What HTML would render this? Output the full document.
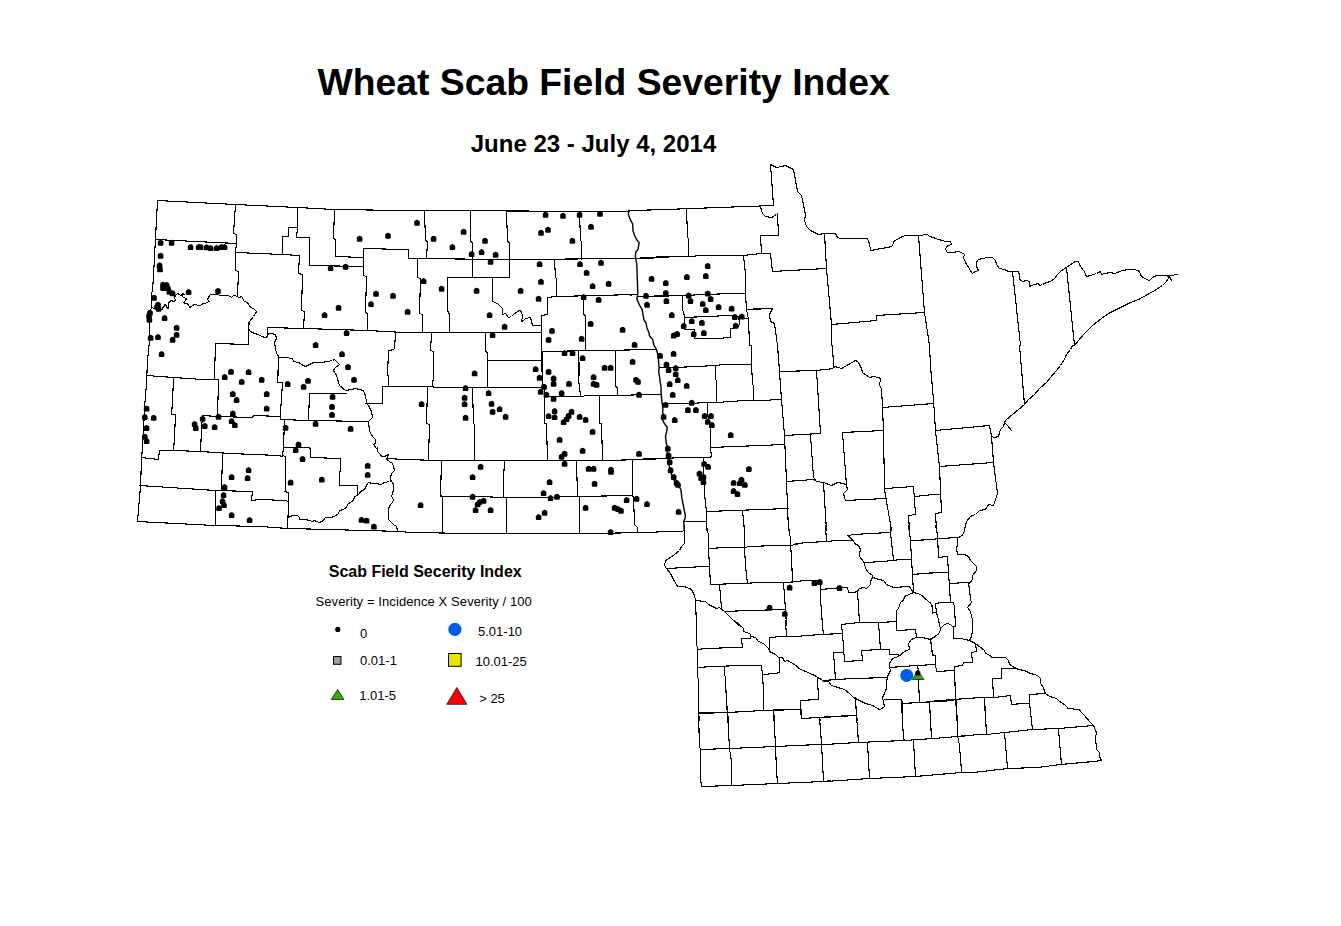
<!DOCTYPE html>
<html><head><meta charset="utf-8"><style>
html,body{margin:0;padding:0;background:#fff;}
body{width:1341px;height:926px;overflow:hidden;position:relative;font-family:"Liberation Sans",sans-serif;}
.t1{position:absolute;left:0;top:0;width:1341px;}
svg{position:absolute;left:0;top:0;}
</style></head><body>
<svg width="1341" height="926" viewBox="0 0 1341 926">
<defs><path id="d" d="M0 -3.3 L1.5 -2.7 L2.8 -1.4 L2.8 1.6 L2.2 2.7 L-2.2 2.7 L-2.8 1.6 L-2.8 -1.4 L-1.5 -2.7 Z" fill="#000"/></defs>
<text x="603.6" y="94.8" font-family="Liberation Sans" font-weight="bold" font-size="37.3" text-anchor="middle" fill="#000">Wheat Scab Field Severity Index</text>
<text x="593.5" y="151.8" font-family="Liberation Sans" font-weight="bold" font-size="24" text-anchor="middle" fill="#000">June 23 - July 4, 2014</text>
<path d="M157.5 200.5 L235.5 204.5 L297.5 207.5 L334.5 209.5 L403.5 210.5 M155.5 239.5 L236.5 243.5 M235.5 204.5 L233.5 233.5 L236.5 234.5 L236.5 243.5 L235.5 252.5 L235.5 270.5 L238.5 271.5 L237.5 296.5 M236.5 252.5 L282.5 254.5 L299.5 255.5 M282.5 254.5 L282.5 236.5 L288.5 236.5 L288.5 227.5 L297.5 227.5 L297.5 207.5 M297.5 227.5 L296.5 237.5 L309.5 237.5 L309.5 265.5 L363.5 266.5 M299.5 255.5 L298.5 273.5 L302.5 274.5 L301.5 310.5 L304.5 311.5 L303.5 328.5 M334.5 209.5 L333.5 238.5 L335.5 239.5 L335.5 256.5 L363.5 257.5 M363.5 248.5 L403.5 249.5 M363.5 248.5 L363.5 275.5 L366.5 276.5 L365.5 312.5 L367.5 313.5 L367.5 330.5 M267.5 327.5 L303.5 328.5 L367.5 330.5 L403.5 332.5 M395.5 332.5 L394.5 349.5 L388.5 350.5 L387.5 375.5 M244.5 301.5 L247.5 302.5 L249.5 305.5 L250.5 307.5 L253.5 308.5 L256.5 311.5 L255.5 313.5 L253.5 316.5 L249.5 321.5 L248.5 328.5 L250.5 331.5 L254.5 333.5 L258.5 334.5 L261.5 336.5 L265.5 337.5 L267.5 336.5 L268.5 333.5 L271.5 333.5 L275.5 334.5 L276.5 338.5 L274.5 342.5 L275.5 348.5 L276.5 353.5 L279.5 357.5 L285.5 357.5 L292.5 358.5 L293.5 361.5 L298.5 362.5 L301.5 364.5 L305.5 366.5 L309.5 364.5 L313.5 362.5 L317.5 362.5 L321.5 362.5 L327.5 361.5 L332.5 360.5 L334.5 359.5 L337.5 362.5 L339.5 364.5 L335.5 367.5 L333.5 370.5 L335.5 373.5 L336.5 375.5 M248.5 322.5 L248.5 344.5 L215.5 343.5 L214.5 375.5 M267.5 327.5 L267.5 336.5 M278.5 357.5 L278.5 375.5 M400.5 210.5 L629.5 211.5 M629.5 210.5 L668.5 209.5 M424.5 211.5 L425.5 240.5 L427.5 241.5 L426.5 258.5 M400.5 249.5 L408.5 249.5 L408.5 258.5 L509.5 259.5 L635.5 258.5 M635.5 258.5 L668.5 257.5 M470.5 211.5 L470.5 241.5 L472.5 242.5 L472.5 259.5 L472.5 277.5 M506.5 211.5 L507.5 241.5 L509.5 242.5 L509.5 259.5 L509.5 277.5 M579.5 211.5 L580.5 240.5 L581.5 241.5 L581.5 259.5 M447.5 277.5 L509.5 277.5 M417.5 259.5 L417.5 277.5 L420.5 278.5 L419.5 313.5 L422.5 314.5 L422.5 332.5 M447.5 277.5 L447.5 310.5 L449.5 314.5 L449.5 332.5 M492.5 277.5 L492.5 301.5 L497.5 303.5 L500.5 306.5 L502.5 308.5 L502.5 314.5 L505.5 313.5 L508.5 317.5 L511.5 316.5 L513.5 314.5 L516.5 312.5 L519.5 310.5 L521.5 311.5 L522.5 316.5 L521.5 321.5 L523.5 320.5 L525.5 318.5 L530.5 317.5 L531.5 321.5 L532.5 325.5 L540.5 325.5 M554.5 259.5 L555.5 277.5 L556.5 278.5 L556.5 296.5 M547.5 297.5 L556.5 296.5 L636.5 294.5 M639.5 296.5 L668.5 296.5 M547.5 297.5 L547.5 314.5 L541.5 315.5 L541.5 332.5 L541.5 351.5 M400.5 332.5 L541.5 332.5 M583.5 296.5 L583.5 314.5 L585.5 315.5 L585.5 350.5 M541.5 351.5 L656.5 349.5 M431.5 333.5 L430.5 350.5 L433.5 351.5 L433.5 375.5 M485.5 332.5 L485.5 351.5 L487.5 352.5 L487.5 375.5 M487.5 360.5 L542.5 360.5 M542.5 351.5 L542.5 375.5 M578.5 351.5 L579.5 375.5 M615.5 350.5 L615.5 375.5 M665.5 209.5 L773.5 205.5 M773.5 205.5 L770.5 164.5 L776.5 167.5 L781.5 166.5 L785.5 165.5 L793.5 169.5 L797.5 191.5 L801.5 195.5 L805.5 214.5 L804.5 220.5 L806.5 226.5 L810.5 230.5 L818.5 234.5 L824.5 233.5 L835.5 233.5 L837.5 237.5 L840.5 238.5 L867.5 238.5 L869.5 243.5 L870.5 250.5 L881.5 248.5 L892.5 246.5 L893.5 241.5 L900.5 237.5 L905.5 235.5 L918.5 235.5 L927.5 234.5 L929.5 236.5 L933.5 237.5 M760.5 206.5 L762.5 213.5 L765.5 216.5 L771.5 217.5 L776.5 214.5 L777.5 213.5 L778.5 235.5 L760.5 235.5 L761.5 253.5 M686.5 208.5 L687.5 236.5 L688.5 239.5 L688.5 256.5 M640.5 257.5 L676.5 256.5 L688.5 256.5 L702.5 255.5 L743.5 255.5 L761.5 253.5 L770.5 253.5 L772.5 271.5 L826.5 268.5 M824.5 233.5 L826.5 268.5 L831.5 324.5 L831.5 345.5 M743.5 255.5 L745.5 273.5 L745.5 293.5 L746.5 309.5 L748.5 319.5 L749.5 345.5 M747.5 309.5 L772.5 308.5 L769.5 314.5 L770.5 321.5 L774.5 323.5 L777.5 345.5 M831.5 324.5 L876.5 320.5 L876.5 315.5 L924.5 312.5 L929.5 345.5 M918.5 235.5 L924.5 312.5 M630.5 295.5 L633.5 294.5 L636.5 294.5 M638.5 296.5 L673.5 295.5 L682.5 295.5 L705.5 294.5 L731.5 293.5 L745.5 293.5 M682.5 295.5 L682.5 310.5 L683.5 311.5 L684.5 317.5 L684.5 329.5 L694.5 329.5 L694.5 338.5 L716.5 338.5 L730.5 337.5 L730.5 328.5 L738.5 327.5 L739.5 322.5 L738.5 316.5 L729.5 315.5 L706.5 316.5 L684.5 317.5 M739.5 318.5 L747.5 318.5 M747.5 309.5 L760.5 308.5 M930.5 236.5 L938.5 239.5 L945.5 241.5 L950.5 241.5 L951.5 244.5 L946.5 246.5 L945.5 249.5 L947.5 252.5 L952.5 252.5 L958.5 251.5 L961.5 252.5 L964.5 254.5 L963.5 257.5 L965.5 262.5 L968.5 267.5 L972.5 273.5 L975.5 271.5 L978.5 270.5 L976.5 266.5 L976.5 262.5 L978.5 259.5 L982.5 258.5 L987.5 257.5 L992.5 257.5 L995.5 260.5 L996.5 264.5 L999.5 268.5 L1004.5 269.5 L1008.5 271.5 L1012.5 271.5 L1018.5 271.5 L1019.5 275.5 L1019.5 279.5 L1022.5 281.5 L1026.5 280.5 L1029.5 281.5 L1029.5 286.5 L1034.5 284.5 L1038.5 283.5 L1039.5 285.5 L1042.5 284.5 L1046.5 282.5 L1050.5 281.5 L1054.5 278.5 L1057.5 274.5 L1061.5 270.5 L1066.5 267.5 L1070.5 264.5 L1075.5 261.5 L1078.5 261.5 L1079.5 264.5 L1082.5 269.5 L1084.5 271.5 L1086.5 276.5 L1090.5 275.5 L1096.5 273.5 L1100.5 271.5 L1101.5 274.5 L1104.5 273.5 L1110.5 272.5 L1114.5 273.5 L1122.5 270.5 L1128.5 269.5 L1134.5 269.5 L1139.5 271.5 L1141.5 276.5 L1144.5 278.5 L1149.5 280.5 L1152.5 277.5 L1156.5 275.5 L1162.5 275.5 L1167.5 275.5 L1170.5 275.5 L1177.5 274.5 M1166.5 275.5 L1170.5 278.5 L1171.5 280.5 L1169.5 276.5 M1168.5 278.5 L1165.5 282.5 L1162.5 285.5 L1156.5 289.5 L1147.5 294.5 L1138.5 299.5 L1128.5 303.5 L1118.5 308.5 L1108.5 313.5 L1101.5 318.5 L1092.5 325.5 L1084.5 333.5 L1078.5 340.5 L1074.5 345.5 M1012.5 271.5 L1020.5 345.5 M1066.5 267.5 L1074.5 345.5 M147.5 360.5 L146.5 383.5 L144.5 407.5 L143.5 431.5 L141.5 460.5 L140.5 486.5 L137.5 521.5 M146.5 375.5 L173.5 377.5 L202.5 379.5 L218.5 379.5 M214.5 360.5 L214.5 379.5 M218.5 379.5 L217.5 416.5 M173.5 377.5 L172.5 401.5 L171.5 414.5 L175.5 414.5 L174.5 437.5 L173.5 450.5 M202.5 415.5 L217.5 416.5 L252.5 417.5 L253.5 415.5 L280.5 416.5 L280.5 419.5 L308.5 420.5 L368.5 421.5 M202.5 415.5 L201.5 429.5 L200.5 451.5 M278.5 360.5 L277.5 382.5 L282.5 382.5 L280.5 412.5 L280.5 416.5 M284.5 419.5 L283.5 447.5 L282.5 455.5 L285.5 456.5 L285.5 490.5 L284.5 491.5 L288.5 492.5 L288.5 504.5 L287.5 528.5 M141.5 457.5 L158.5 459.5 L159.5 450.5 L173.5 450.5 L200.5 451.5 L230.5 453.5 L278.5 455.5 L282.5 456.5 M283.5 447.5 L308.5 447.5 L310.5 448.5 L310.5 457.5 L340.5 458.5 L340.5 471.5 L339.5 471.5 L339.5 485.5 L357.5 485.5 L357.5 495.5 M137.5 521.5 L214.5 525.5 L260.5 526.5 L287.5 528.5 L328.5 529.5 L364.5 530.5 L403.5 531.5 M139.5 485.5 L215.5 490.5 L252.5 491.5 L251.5 500.5 L260.5 499.5 L285.5 500.5 L288.5 501.5 M215.5 490.5 L215.5 525.5 M222.5 453.5 L221.5 490.5 M308.5 420.5 L309.5 393.5 L346.5 393.5 M336.5 375.5 L339.5 385.5 L345.5 390.5 L351.5 389.5 L355.5 388.5 L363.5 390.5 L365.5 395.5 L366.5 402.5 L368.5 405.5 L371.5 411.5 L372.5 417.5 L368.5 421.5 L369.5 430.5 L370.5 433.5 L373.5 437.5 L375.5 439.5 L375.5 443.5 L373.5 444.5 L376.5 448.5 L377.5 447.5 L377.5 451.5 L380.5 454.5 L381.5 456.5 L384.5 456.5 L388.5 454.5 L387.5 457.5 L386.5 459.5 L389.5 461.5 L392.5 463.5 L393.5 466.5 L394.5 470.5 L391.5 473.5 L390.5 477.5 L390.5 480.5 L392.5 482.5 L393.5 484.5 L393.5 489.5 L392.5 493.5 L391.5 496.5 L393.5 499.5 L392.5 502.5 L390.5 504.5 L388.5 508.5 L388.5 511.5 L388.5 519.5 L391.5 522.5 L393.5 524.5 L396.5 526.5 L397.5 530.5 M365.5 403.5 L382.5 403.5 L382.5 386.5 L403.5 386.5 M388.5 375.5 L388.5 386.5 M387.5 458.5 L403.5 459.5 M288.5 517.5 L292.5 515.5 L297.5 515.5 L299.5 517.5 L299.5 519.5 L305.5 519.5 L309.5 520.5 L312.5 521.5 L314.5 520.5 L316.5 521.5 L319.5 522.5 L323.5 520.5 L325.5 517.5 L330.5 517.5 L334.5 516.5 L338.5 513.5 L339.5 510.5 L343.5 509.5 L346.5 507.5 L347.5 504.5 L350.5 502.5 L353.5 500.5 L354.5 496.5 L357.5 495.5 L359.5 493.5 L360.5 491.5 L364.5 489.5 L366.5 485.5 L368.5 482.5 L372.5 483.5 L375.5 483.5 L381.5 484.5 L384.5 482.5 L389.5 481.5 L391.5 480.5 M433.5 375.5 L432.5 386.5 M400.5 386.5 L432.5 386.5 L434.5 387.5 L487.5 387.5 L542.5 387.5 M487.5 375.5 L487.5 387.5 M541.5 351.5 L542.5 387.5 L544.5 389.5 L544.5 423.5 L546.5 423.5 L547.5 460.5 M544.5 396.5 L580.5 396.5 L587.5 395.5 L617.5 395.5 L647.5 394.5 L660.5 394.5 M578.5 351.5 L578.5 378.5 L579.5 387.5 L580.5 395.5 M615.5 375.5 L615.5 386.5 L617.5 387.5 L617.5 395.5 M599.5 395.5 L599.5 423.5 L601.5 423.5 L602.5 459.5 M659.5 367.5 L670.5 367.5 M662.5 403.5 L670.5 403.5 M427.5 386.5 L426.5 423.5 L429.5 424.5 L428.5 459.5 M472.5 387.5 L473.5 423.5 L474.5 424.5 L474.5 460.5 M400.5 459.5 L442.5 460.5 L600.5 460.5 L646.5 459.5 L664.5 458.5 M441.5 460.5 L440.5 495.5 L442.5 496.5 M504.5 460.5 L503.5 479.5 L503.5 497.5 M576.5 460.5 L577.5 496.5 M632.5 460.5 L632.5 496.5 L633.5 496.5 L634.5 524.5 L637.5 527.5 L637.5 532.5 M440.5 496.5 L478.5 496.5 L504.5 497.5 L540.5 497.5 L576.5 496.5 L632.5 495.5 M442.5 496.5 L442.5 532.5 M506.5 497.5 L506.5 533.5 M579.5 496.5 L579.5 533.5 M400.5 531.5 L410.5 532.5 L472.5 533.5 L540.5 533.5 L590.5 533.5 L645.5 532.5 L668.5 531.5 M659.5 367.5 L672.5 367.5 L699.5 366.5 L726.5 364.5 L750.5 364.5 L751.5 363.5 M750.5 345.5 L751.5 345.5 L751.5 363.5 M715.5 365.5 L715.5 379.5 L716.5 380.5 L716.5 401.5 M751.5 363.5 L752.5 384.5 L753.5 385.5 L753.5 400.5 M662.5 403.5 L688.5 403.5 L707.5 402.5 L716.5 402.5 L744.5 400.5 L765.5 400.5 L775.5 399.5 L781.5 399.5 M707.5 402.5 L707.5 413.5 L710.5 430.5 L710.5 447.5 L711.5 456.5 M640.5 459.5 L646.5 458.5 L666.5 458.5 L679.5 457.5 L709.5 457.5 L711.5 456.5 M710.5 447.5 L760.5 445.5 L783.5 444.5 M703.5 457.5 L703.5 470.5 L704.5 493.5 L705.5 502.5 L706.5 511.5 L706.5 530.5 M706.5 511.5 L734.5 510.5 L760.5 509.5 L788.5 508.5 M742.5 510.5 L744.5 530.5 M684.5 521.5 L706.5 521.5 M777.5 345.5 L779.5 371.5 L781.5 399.5 L784.5 435.5 L786.5 481.5 L788.5 530.5 M779.5 371.5 L816.5 370.5 L833.5 368.5 L834.5 366.5 L841.5 368.5 L855.5 360.5 L858.5 362.5 L861.5 368.5 L862.5 372.5 L869.5 377.5 L873.5 376.5 L878.5 377.5 L880.5 378.5 L879.5 385.5 L881.5 388.5 L882.5 407.5 M832.5 345.5 L833.5 366.5 M816.5 370.5 L820.5 433.5 M784.5 435.5 L820.5 433.5 M882.5 407.5 L933.5 403.5 M882.5 407.5 L883.5 431.5 L884.5 489.5 L891.5 530.5 M842.5 432.5 L883.5 430.5 M842.5 432.5 L846.5 485.5 L847.5 489.5 L843.5 493.5 L845.5 500.5 L885.5 498.5 M810.5 435.5 L813.5 477.5 L816.5 481.5 L823.5 482.5 L831.5 485.5 L837.5 482.5 L843.5 483.5 L846.5 485.5 M786.5 481.5 L813.5 479.5 L816.5 481.5 M823.5 482.5 L826.5 530.5 M885.5 488.5 L913.5 486.5 L915.5 514.5 L908.5 515.5 L909.5 530.5 M914.5 496.5 L933.5 494.5 M1074.5 345.5 L1072.5 345.5 L1070.5 349.5 L1066.5 354.5 L1064.5 359.5 L1060.5 365.5 L1056.5 370.5 L1050.5 377.5 L1046.5 382.5 L1040.5 387.5 L1034.5 394.5 L1028.5 399.5 L1024.5 404.5 L1018.5 409.5 L1012.5 414.5 L1005.5 420.5 L1004.5 422.5 L1007.5 425.5 L1011.5 430.5 M1004.5 422.5 L1003.5 426.5 L1000.5 429.5 L999.5 432.5 L998.5 436.5 L994.5 437.5 L991.5 436.5 M1019.5 345.5 L1024.5 404.5 M929.5 345.5 L930.5 366.5 L933.5 399.5 L935.5 430.5 L939.5 466.5 L941.5 512.5 L935.5 513.5 L936.5 530.5 M935.5 430.5 L989.5 425.5 L991.5 436.5 M991.5 436.5 L993.5 462.5 L997.5 493.5 L995.5 499.5 L993.5 505.5 L988.5 504.5 L985.5 509.5 L979.5 510.5 L975.5 514.5 L970.5 516.5 L966.5 521.5 L964.5 530.5 M939.5 466.5 L993.5 462.5 M930.5 494.5 L940.5 494.5 M660.5 531.5 L681.5 531.5 L684.5 530.5 M684.5 525.5 L684.5 529.5 L684.5 543.5 L681.5 546.5 L679.5 550.5 L674.5 554.5 L670.5 557.5 L665.5 560.5 L664.5 565.5 L666.5 568.5 L670.5 573.5 L673.5 579.5 L677.5 586.5 L684.5 586.5 L691.5 589.5 L694.5 595.5 L695.5 600.5 L696.5 625.5 L696.5 645.5 L697.5 646.5 L697.5 667.5 L697.5 677.5 L698.5 678.5 L698.5 712.5 L699.5 720.5 M666.5 568.5 L704.5 566.5 L709.5 566.5 M706.5 525.5 L708.5 535.5 L708.5 548.5 L709.5 566.5 L710.5 584.5 M708.5 548.5 L725.5 547.5 L744.5 547.5 L749.5 546.5 L776.5 545.5 L790.5 545.5 L800.5 543.5 M743.5 525.5 L744.5 528.5 L744.5 547.5 L745.5 565.5 L747.5 583.5 M788.5 525.5 L790.5 539.5 L790.5 543.5 L791.5 557.5 L792.5 581.5 M710.5 584.5 L739.5 583.5 L762.5 582.5 L783.5 582.5 L800.5 581.5 M719.5 584.5 L721.5 608.5 M783.5 582.5 L785.5 609.5 L786.5 625.5 M695.5 600.5 L705.5 601.5 L708.5 604.5 L716.5 608.5 L719.5 607.5 L724.5 611.5 L735.5 622.5 L738.5 625.5 M724.5 611.5 L748.5 610.5 L785.5 609.5 M795.5 543.5 L824.5 541.5 L838.5 540.5 L853.5 540.5 M825.5 525.5 L826.5 541.5 M847.5 535.5 L854.5 534.5 L870.5 533.5 L890.5 532.5 M847.5 535.5 L853.5 540.5 L854.5 543.5 L858.5 545.5 L860.5 549.5 L859.5 553.5 L859.5 556.5 L863.5 561.5 L864.5 563.5 L865.5 568.5 L868.5 572.5 L872.5 575.5 L872.5 577.5 M890.5 525.5 L890.5 532.5 L893.5 560.5 M864.5 562.5 L883.5 561.5 L900.5 559.5 L911.5 559.5 M908.5 525.5 L910.5 540.5 L911.5 559.5 L912.5 574.5 L913.5 592.5 M910.5 540.5 L935.5 539.5 M912.5 574.5 L935.5 572.5 M872.5 577.5 L879.5 579.5 L883.5 580.5 L886.5 584.5 L893.5 587.5 L909.5 586.5 L913.5 592.5 M872.5 577.5 L870.5 581.5 L870.5 584.5 L866.5 588.5 L863.5 587.5 L859.5 588.5 L857.5 591.5 L853.5 592.5 L848.5 592.5 L847.5 587.5 L842.5 587.5 L820.5 589.5 M795.5 581.5 L805.5 580.5 L819.5 580.5 M820.5 580.5 L820.5 598.5 L822.5 625.5 L823.5 634.5 M857.5 591.5 L859.5 622.5 M841.5 624.5 L859.5 622.5 L879.5 622.5 L896.5 621.5 M878.5 622.5 L880.5 649.5 M913.5 592.5 L904.5 596.5 L903.5 600.5 L900.5 602.5 L898.5 608.5 L896.5 610.5 L896.5 630.5 L915.5 629.5 L916.5 637.5 M913.5 592.5 L920.5 594.5 L927.5 600.5 L932.5 605.5 L932.5 613.5 M734.5 620.5 L743.5 628.5 L743.5 631.5 L749.5 633.5 L751.5 636.5 L755.5 637.5 L758.5 641.5 L763.5 643.5 L768.5 648.5 L769.5 651.5 L775.5 654.5 L778.5 657.5 L782.5 657.5 L784.5 661.5 L787.5 660.5 L794.5 664.5 L800.5 669.5 L803.5 670.5 L814.5 675.5 L824.5 681.5 L828.5 681.5 L831.5 685.5 L844.5 689.5 L849.5 693.5 L853.5 697.5 L865.5 703.5 L872.5 705.5 L879.5 709.5 L880.5 709.5 M785.5 620.5 L786.5 636.5 M769.5 637.5 L781.5 636.5 L786.5 636.5 L800.5 636.5 M769.5 637.5 L769.5 650.5 M750.5 634.5 L750.5 638.5 L741.5 638.5 L742.5 647.5 L734.5 647.5 L706.5 648.5 L697.5 649.5 M697.5 667.5 L712.5 666.5 L742.5 665.5 L761.5 665.5 L762.5 674.5 L775.5 673.5 L779.5 672.5 L779.5 657.5 M724.5 667.5 L724.5 675.5 L725.5 676.5 L726.5 706.5 L727.5 712.5 L728.5 720.5 M762.5 674.5 L763.5 691.5 L763.5 710.5 M699.5 712.5 L728.5 712.5 L762.5 710.5 L785.5 709.5 L800.5 709.5 M773.5 710.5 L774.5 720.5 M795.5 636.5 L820.5 634.5 L842.5 633.5 M841.5 624.5 L842.5 633.5 L844.5 661.5 L862.5 660.5 L861.5 650.5 L880.5 649.5 L889.5 649.5 L889.5 654.5 L898.5 654.5 L898.5 656.5 M916.5 637.5 L922.5 637.5 L930.5 639.5 L935.5 636.5 M916.5 637.5 L911.5 639.5 L908.5 643.5 L909.5 649.5 L904.5 651.5 L898.5 656.5 L892.5 658.5 L889.5 663.5 L889.5 667.5 L890.5 670.5 L887.5 676.5 L886.5 682.5 L886.5 688.5 L884.5 693.5 L882.5 697.5 L883.5 702.5 L884.5 706.5 L880.5 709.5 M930.5 639.5 L932.5 655.5 L935.5 655.5 M833.5 652.5 L843.5 652.5 M833.5 652.5 L835.5 679.5 M824.5 680.5 L835.5 679.5 L854.5 678.5 L887.5 677.5 M889.5 667.5 L916.5 665.5 L935.5 664.5 M917.5 666.5 L918.5 670.5 M918.5 679.5 L919.5 702.5 M817.5 677.5 L818.5 699.5 L800.5 700.5 L800.5 709.5 L795.5 709.5 M800.5 709.5 L801.5 718.5 L819.5 717.5 L856.5 715.5 L855.5 697.5 M819.5 717.5 L820.5 720.5 M856.5 715.5 L857.5 720.5 M884.5 699.5 L901.5 699.5 L902.5 703.5 L919.5 702.5 L935.5 701.5 M902.5 703.5 L902.5 720.5 M929.5 702.5 L930.5 720.5 M965.5 525.5 L964.5 529.5 L963.5 534.5 L960.5 536.5 L957.5 538.5 L957.5 545.5 L956.5 547.5 L957.5 554.5 L964.5 554.5 L968.5 556.5 L970.5 560.5 L976.5 566.5 L976.5 570.5 L972.5 575.5 L972.5 579.5 L970.5 582.5 L968.5 583.5 L969.5 589.5 L970.5 599.5 L971.5 602.5 L967.5 607.5 L970.5 611.5 L971.5 616.5 L972.5 619.5 L972.5 625.5 L972.5 630.5 L971.5 636.5 L969.5 640.5 L975.5 643.5 L984.5 650.5 L985.5 653.5 L990.5 655.5 L991.5 657.5 L1000.5 657.5 L1005.5 657.5 L1008.5 660.5 L1009.5 664.5 L1014.5 667.5 L1018.5 669.5 L1024.5 670.5 L1030.5 673.5 L1037.5 675.5 L1040.5 678.5 L1040.5 683.5 L1043.5 687.5 L1044.5 691.5 L1045.5 693.5 L1049.5 696.5 L1056.5 698.5 L1059.5 701.5 L1064.5 704.5 L1068.5 708.5 L1070.5 708.5 M935.5 525.5 L937.5 534.5 L938.5 557.5 L947.5 556.5 L948.5 572.5 L949.5 587.5 L950.5 602.5 M930.5 539.5 L940.5 538.5 L957.5 537.5 M930.5 573.5 L934.5 572.5 L948.5 572.5 M950.5 583.5 L965.5 582.5 L969.5 582.5 M935.5 603.5 L941.5 602.5 L953.5 602.5 L954.5 607.5 L955.5 625.5 L955.5 626.5 M935.5 603.5 L936.5 612.5 L938.5 619.5 L939.5 625.5 L940.5 628.5 M930.5 602.5 L932.5 607.5 L932.5 612.5 L936.5 612.5 M940.5 628.5 L944.5 624.5 L947.5 623.5 L950.5 624.5 L952.5 626.5 L955.5 626.5 M940.5 628.5 L939.5 633.5 L936.5 635.5 L931.5 638.5 L930.5 638.5 M953.5 626.5 L953.5 638.5 L960.5 638.5 L965.5 639.5 L969.5 640.5 M975.5 643.5 L976.5 651.5 L971.5 652.5 L972.5 662.5 L963.5 662.5 L962.5 665.5 L954.5 666.5 L954.5 670.5 L936.5 671.5 L935.5 664.5 L930.5 664.5 M930.5 638.5 L932.5 654.5 L935.5 655.5 L935.5 664.5 M954.5 666.5 L955.5 700.5 L957.5 720.5 M930.5 701.5 L939.5 700.5 L953.5 699.5 L966.5 698.5 L982.5 697.5 L994.5 697.5 L1010.5 695.5 L1011.5 704.5 L1022.5 703.5 L1029.5 703.5 L1029.5 694.5 L1045.5 693.5 M1001.5 668.5 L1014.5 668.5 M1001.5 668.5 L1001.5 678.5 L992.5 678.5 L993.5 697.5 M984.5 697.5 L985.5 720.5 M1029.5 703.5 L1031.5 720.5 M993.5 690.5 L993.5 697.5 M984.5 697.5 L986.5 734.5 M1029.5 703.5 L1032.5 729.5 M1067.5 708.5 L1079.5 709.5 L1081.5 712.5 L1084.5 715.5 L1089.5 721.5 L1093.5 725.5 L1096.5 732.5 L1095.5 737.5 L1096.5 749.5 L1099.5 752.5 L1099.5 756.5 L1101.5 760.5 M960.5 736.5 L977.5 734.5 L986.5 734.5 L1004.5 732.5 L1032.5 729.5 L1058.5 728.5 L1093.5 725.5 M1004.5 732.5 L1007.5 768.5 M1058.5 729.5 L1061.5 764.5 M960.5 772.5 L973.5 772.5 L1007.5 768.5 L1037.5 767.5 L1060.5 764.5 L1093.5 761.5 L1101.5 760.5 M960.5 756.5 L961.5 772.5 M698.5 700.5 L698.5 713.5 L699.5 746.5 L700.5 749.5 L700.5 777.5 L701.5 786.5 M698.5 713.5 L727.5 712.5 L762.5 710.5 L801.5 709.5 M726.5 700.5 L727.5 712.5 L729.5 748.5 L731.5 761.5 L731.5 785.5 M773.5 710.5 L775.5 745.5 L776.5 770.5 L777.5 783.5 M800.5 700.5 L801.5 718.5 L819.5 717.5 L830.5 716.5 M819.5 717.5 L821.5 743.5 L823.5 781.5 M700.5 749.5 L729.5 748.5 L775.5 746.5 L818.5 744.5 L830.5 744.5 M701.5 786.5 L731.5 785.5 L777.5 783.5 L823.5 781.5 L830.5 780.5 M855.5 700.5 L856.5 715.5 L858.5 742.5 M825.5 717.5 L846.5 715.5 L856.5 715.5 M901.5 700.5 L901.5 703.5 L903.5 738.5 L904.5 740.5 M901.5 703.5 L919.5 702.5 L939.5 701.5 L953.5 700.5 M929.5 701.5 L931.5 738.5 M956.5 700.5 L957.5 735.5 L959.5 745.5 L961.5 771.5 M825.5 744.5 L857.5 742.5 L904.5 740.5 L933.5 738.5 L957.5 736.5 L965.5 735.5 M867.5 742.5 L869.5 778.5 M913.5 740.5 L915.5 776.5 M825.5 781.5 L869.5 778.5 L915.5 776.5 L961.5 772.5 L965.5 772.5 M157.5 200.5 L155.5 238.5 L153.5 275.5 L152.5 291.5 L151.5 292.5 L151.5 308.5 L150.5 309.5 L149.5 323.5 L149.5 340.5 L147.5 360.5 M151.5 306.5 L153.5 308.5 L156.5 308.5 L161.5 309.5 L162.5 309.5 L162.5 307.5 L164.5 306.5 L164.5 304.5 L165.5 304.5 L167.5 308.5 L168.5 308.5 L168.5 305.5 L168.5 303.5 L169.5 301.5 L171.5 300.5 L173.5 301.5 L174.5 301.5 L175.5 299.5 L174.5 298.5 L174.5 297.5 L176.5 294.5 L177.5 293.5 L179.5 294.5 L180.5 295.5 L181.5 294.5 L183.5 293.5 L184.5 294.5 L181.5 295.5 L183.5 297.5 L186.5 298.5 L185.5 300.5 L183.5 302.5 L185.5 303.5 L187.5 303.5 L189.5 306.5 L189.5 307.5 L191.5 306.5 L194.5 304.5 L196.5 304.5 L197.5 305.5 L200.5 305.5 L203.5 303.5 L205.5 303.5 L206.5 302.5 L209.5 301.5 L207.5 299.5 L208.5 297.5 L209.5 295.5 L210.5 294.5 L218.5 294.5 L219.5 295.5 L219.5 295.5 L227.5 295.5 L230.5 296.5 L231.5 297.5 L233.5 295.5 L235.5 295.5 L236.5 296.5 L239.5 297.5 L241.5 296.5 L242.5 297.5 L243.5 300.5 L244.5 301.5 L244.5 301.5" fill="none" stroke="#000" stroke-width="1.1" stroke-linejoin="miter" stroke-linecap="square" shape-rendering="crispEdges"/>
<path d="M655 346.8 L656.8 350.5 L658.2 356 L658.7 363.4 L659.1 367 L658.7 372.5 L659.6 377.1 L660.1 381.7 L661 386.3 L661 390.9 L661.4 396.4 L661.9 401.9 L662.8 407.4 L662.8 414.8 L662.3 419.4 L664.2 423.1 L666 425.8 L667.2 427.3 L666.7 431.8 L665.5 436.3 L666.1 442 L667.2 447.7 L667.2 454.5 L668.4 461.3 L670.1 470.4 L672.9 478.3 L676.3 484 L680.8 489.1 L682 498.7 L684.2 510.1 L685.4 515.7 L684.8 519.1 L683.7 521.4 L684.2 530 M628.7 210.5 L628.4 214.7 L630.4 219.9 L632.6 223.8 L633 230.9 L634.9 236.1 L636.9 240 L639.1 242.6 L638.1 249.1 L635.9 251.7 L635.3 256 L636.8 264.7 L637.3 279.3 L637.8 293.9 L636.8 298.7 L639.2 304.6 L642.1 309.4 L643.1 315.3 L644.1 320.1 L646 323 L647 327.9 L649 332.7 L649.4 335.7 L652.8 339.5 L653.8 345 L655 346.8" fill="none" stroke="#000" stroke-width="1.4" stroke-linejoin="round" stroke-linecap="round"/>
<g><use href="#d" x="160.6" y="243"/><use href="#d" x="171.6" y="243"/><use href="#d" x="190.6" y="247.4"/><use href="#d" x="198.6" y="247.4"/><use href="#d" x="200.6" y="247.2"/><use href="#d" x="206.6" y="247.6"/><use href="#d" x="210.6" y="248.4"/><use href="#d" x="216.6" y="248.4"/><use href="#d" x="221.4" y="247.4"/><use href="#d" x="224.6" y="247.4"/><use href="#d" x="160.6" y="256"/><use href="#d" x="159.6" y="265.6"/><use href="#d" x="160" y="269.6"/><use href="#d" x="163" y="285"/><use href="#d" x="166.6" y="285.2"/><use href="#d" x="163" y="288.4"/><use href="#d" x="168" y="288.4"/><use href="#d" x="169.4" y="292"/><use href="#d" x="172.6" y="293.6"/><use href="#d" x="188.6" y="292.4"/><use href="#d" x="218" y="291.2"/><use href="#d" x="154" y="298"/><use href="#d" x="158" y="305"/><use href="#d" x="158.6" y="309"/><use href="#d" x="157" y="307"/><use href="#d" x="150" y="313"/><use href="#d" x="149" y="316"/><use href="#d" x="149.4" y="320"/><use href="#d" x="164.6" y="318.4"/><use href="#d" x="176.6" y="328"/><use href="#d" x="176.6" y="335"/><use href="#d" x="172.6" y="340"/><use href="#d" x="150.6" y="338"/><use href="#d" x="158" y="337.4"/><use href="#d" x="161.6" y="354.4"/><use href="#d" x="231" y="372"/><use href="#d" x="248.6" y="372.4"/><use href="#d" x="359.6" y="239"/><use href="#d" x="388" y="236"/><use href="#d" x="330.6" y="268.4"/><use href="#d" x="345.6" y="267"/><use href="#d" x="376" y="294"/><use href="#d" x="393" y="296"/><use href="#d" x="371" y="304.4"/><use href="#d" x="338.6" y="308"/><use href="#d" x="324.6" y="315.4"/><use href="#d" x="346.6" y="333.2"/><use href="#d" x="315.6" y="345.2"/><use href="#d" x="342" y="354.4"/><use href="#d" x="348" y="367.2"/><use href="#d" x="417" y="223"/><use href="#d" x="433.6" y="239"/><use href="#d" x="463.6" y="232"/><use href="#d" x="452.4" y="247.4"/><use href="#d" x="471.6" y="254.4"/><use href="#d" x="481.6" y="252.4"/><use href="#d" x="485" y="241"/><use href="#d" x="495.6" y="255"/><use href="#d" x="490.6" y="262"/><use href="#d" x="545.6" y="215"/><use href="#d" x="563" y="216"/><use href="#d" x="579.6" y="215"/><use href="#d" x="600" y="214"/><use href="#d" x="591" y="227"/><use href="#d" x="548" y="230"/><use href="#d" x="541" y="233"/><use href="#d" x="572.4" y="241"/><use href="#d" x="539.6" y="264.4"/><use href="#d" x="580" y="264.4"/><use href="#d" x="601" y="263"/><use href="#d" x="586.6" y="273"/><use href="#d" x="541" y="282"/><use href="#d" x="592.6" y="286.4"/><use href="#d" x="608.6" y="284"/><use href="#d" x="520.6" y="291"/><use href="#d" x="538.6" y="299"/><use href="#d" x="583.6" y="297.4"/><use href="#d" x="598.6" y="300"/><use href="#d" x="476.6" y="291"/><use href="#d" x="441.6" y="289"/><use href="#d" x="423.6" y="281.4"/><use href="#d" x="407.6" y="312"/><use href="#d" x="489.6" y="315.4"/><use href="#d" x="504.6" y="327"/><use href="#d" x="492.6" y="335.4"/><use href="#d" x="552" y="331"/><use href="#d" x="548.6" y="340"/><use href="#d" x="590.6" y="324"/><use href="#d" x="622.6" y="330"/><use href="#d" x="581.6" y="339"/><use href="#d" x="634.6" y="345"/><use href="#d" x="564.6" y="353.4"/><use href="#d" x="572.6" y="353.4"/><use href="#d" x="582.6" y="358.4"/><use href="#d" x="632.6" y="362"/><use href="#d" x="604.6" y="368"/><use href="#d" x="610.6" y="368"/><use href="#d" x="535.6" y="369.4"/><use href="#d" x="548.6" y="372"/><use href="#d" x="474.6" y="373.6"/><use href="#d" x="651.6" y="279"/><use href="#d" x="646" y="296"/><use href="#d" x="647" y="305"/><use href="#d" x="660" y="356"/><use href="#d" x="707.7" y="266.2"/><use href="#d" x="686.9" y="277.2"/><use href="#d" x="705.8" y="276.2"/><use href="#d" x="665.8" y="283.2"/><use href="#d" x="665.8" y="293.2"/><use href="#d" x="688.6" y="295.8"/><use href="#d" x="707.7" y="293.9"/><use href="#d" x="666.4" y="301.2"/><use href="#d" x="690.5" y="301.2"/><use href="#d" x="710.7" y="299.2"/><use href="#d" x="702.7" y="304.1"/><use href="#d" x="705.8" y="310.2"/><use href="#d" x="718.6" y="307.2"/><use href="#d" x="731.6" y="308.9"/><use href="#d" x="671.8" y="315.3"/><use href="#d" x="734.8" y="317.2"/><use href="#d" x="741.8" y="316.9"/><use href="#d" x="691.7" y="321.4"/><use href="#d" x="701.9" y="323"/><use href="#d" x="683.7" y="326.2"/><use href="#d" x="735.7" y="326"/><use href="#d" x="673.7" y="335.7"/><use href="#d" x="677.1" y="334.2"/><use href="#d" x="693.7" y="334.2"/><use href="#d" x="703.9" y="333.2"/><use href="#d" x="224.7" y="377.3"/><use href="#d" x="241.7" y="382.1"/><use href="#d" x="261.7" y="380"/><use href="#d" x="287.7" y="384.2"/><use href="#d" x="232.8" y="394.2"/><use href="#d" x="236.6" y="400.2"/><use href="#d" x="266.7" y="394.2"/><use href="#d" x="266.7" y="408.9"/><use href="#d" x="232.8" y="413.9"/><use href="#d" x="218.5" y="417"/><use href="#d" x="231.6" y="421.4"/><use href="#d" x="234.9" y="425.4"/><use href="#d" x="202.6" y="419.1"/><use href="#d" x="194.6" y="424.4"/><use href="#d" x="195.8" y="428.2"/><use href="#d" x="204.8" y="426.2"/><use href="#d" x="214.6" y="427.4"/><use href="#d" x="146.6" y="408.9"/><use href="#d" x="144.8" y="417.3"/><use href="#d" x="153.7" y="418.1"/><use href="#d" x="146.6" y="428.2"/><use href="#d" x="144.8" y="437"/><use href="#d" x="146.6" y="441.4"/><use href="#d" x="285.6" y="428"/><use href="#d" x="308" y="381"/><use href="#d" x="303.6" y="387"/><use href="#d" x="354" y="380"/><use href="#d" x="332.6" y="397"/><use href="#d" x="332" y="407"/><use href="#d" x="332" y="415"/><use href="#d" x="315.6" y="424"/><use href="#d" x="350.6" y="429"/><use href="#d" x="298.5" y="444.7"/><use href="#d" x="295.7" y="450.4"/><use href="#d" x="302.5" y="459.2"/><use href="#d" x="290.6" y="482.7"/><use href="#d" x="321.8" y="479.9"/><use href="#d" x="367.7" y="466"/><use href="#d" x="367.7" y="475.1"/><use href="#d" x="361.5" y="520.1"/><use href="#d" x="366.6" y="520.9"/><use href="#d" x="373.9" y="526.9"/><use href="#d" x="248.6" y="470.4"/><use href="#d" x="247.6" y="478.4"/><use href="#d" x="231.6" y="477.4"/><use href="#d" x="224.6" y="487.4"/><use href="#d" x="223.6" y="495.4"/><use href="#d" x="222.6" y="501.4"/><use href="#d" x="224" y="505.4"/><use href="#d" x="219" y="508.4"/><use href="#d" x="231.6" y="515.4"/><use href="#d" x="249.6" y="520.4"/><use href="#d" x="539.6" y="378"/><use href="#d" x="553.6" y="378.6"/><use href="#d" x="553.6" y="384"/><use href="#d" x="569" y="384"/><use href="#d" x="593.6" y="377.4"/><use href="#d" x="593.6" y="384"/><use href="#d" x="596.6" y="385"/><use href="#d" x="636" y="380"/><use href="#d" x="638" y="382"/><use href="#d" x="544" y="387"/><use href="#d" x="540.6" y="392"/><use href="#d" x="546.4" y="395"/><use href="#d" x="561.6" y="393.4"/><use href="#d" x="553.6" y="399"/><use href="#d" x="639" y="395"/><use href="#d" x="465.6" y="388.4"/><use href="#d" x="488.6" y="393.4"/><use href="#d" x="421.6" y="404.4"/><use href="#d" x="464.6" y="398"/><use href="#d" x="464.6" y="404.4"/><use href="#d" x="491.6" y="404"/><use href="#d" x="499.6" y="409.4"/><use href="#d" x="492.6" y="412"/><use href="#d" x="505.6" y="417"/><use href="#d" x="465.6" y="418"/><use href="#d" x="554.6" y="411.4"/><use href="#d" x="548.6" y="416.4"/><use href="#d" x="554.6" y="417.4"/><use href="#d" x="571.6" y="412"/><use href="#d" x="568.6" y="416"/><use href="#d" x="566.6" y="419.4"/><use href="#d" x="563.6" y="422.4"/><use href="#d" x="579.6" y="417"/><use href="#d" x="585.6" y="420"/><use href="#d" x="592.6" y="432"/><use href="#d" x="559.6" y="440"/><use href="#d" x="582.6" y="451"/><use href="#d" x="564.6" y="454"/><use href="#d" x="561.6" y="457"/><use href="#d" x="564.6" y="464"/><use href="#d" x="639" y="454"/><use href="#d" x="663.6" y="417"/><use href="#d" x="480.6" y="467"/><use href="#d" x="472.6" y="477.4"/><use href="#d" x="549.6" y="482.4"/><use href="#d" x="588.6" y="469"/><use href="#d" x="593.6" y="469"/><use href="#d" x="611" y="470"/><use href="#d" x="611" y="472"/><use href="#d" x="594.6" y="484"/><use href="#d" x="420.6" y="505.4"/><use href="#d" x="472.6" y="497"/><use href="#d" x="483.6" y="501"/><use href="#d" x="479.6" y="502.4"/><use href="#d" x="477.6" y="504.6"/><use href="#d" x="475.6" y="510.4"/><use href="#d" x="490.6" y="510.4"/><use href="#d" x="543.6" y="493.4"/><use href="#d" x="550.6" y="498.4"/><use href="#d" x="557" y="497"/><use href="#d" x="544.6" y="513"/><use href="#d" x="538.6" y="517.4"/><use href="#d" x="585.6" y="508"/><use href="#d" x="614.6" y="508"/><use href="#d" x="618" y="509.4"/><use href="#d" x="621" y="511"/><use href="#d" x="626.6" y="500.4"/><use href="#d" x="636.6" y="499"/><use href="#d" x="647" y="504.4"/><use href="#d" x="610.6" y="532.4"/><use href="#d" x="673.6" y="354"/><use href="#d" x="666.5" y="364.7"/><use href="#d" x="668.6" y="370.3"/><use href="#d" x="675.7" y="368.4"/><use href="#d" x="675.7" y="374.4"/><use href="#d" x="677.8" y="380.4"/><use href="#d" x="669.7" y="384.3"/><use href="#d" x="686.7" y="386.1"/><use href="#d" x="672.7" y="395"/><use href="#d" x="665.6" y="405.1"/><use href="#d" x="691.7" y="403"/><use href="#d" x="687.9" y="410.2"/><use href="#d" x="695.9" y="410.2"/><use href="#d" x="704.6" y="416.2"/><use href="#d" x="711" y="416.2"/><use href="#d" x="707.8" y="422.1"/><use href="#d" x="711.9" y="425.3"/><use href="#d" x="674.7" y="420.3"/><use href="#d" x="730.7" y="435.2"/><use href="#d" x="667.8" y="448.8"/><use href="#d" x="668.6" y="455.6"/><use href="#d" x="669.7" y="462.2"/><use href="#d" x="670.6" y="470.4"/><use href="#d" x="673.7" y="477.2"/><use href="#d" x="676.5" y="483.1"/><use href="#d" x="678" y="485.1"/><use href="#d" x="704.1" y="464.1"/><use href="#d" x="708.1" y="467"/><use href="#d" x="699.5" y="473.8"/><use href="#d" x="703.5" y="477.2"/><use href="#d" x="701.2" y="478.3"/><use href="#d" x="703.5" y="482.3"/><use href="#d" x="748.9" y="469.2"/><use href="#d" x="733.6" y="483.1"/><use href="#d" x="741.5" y="480"/><use href="#d" x="739.8" y="483.4"/><use href="#d" x="744.9" y="485.1"/><use href="#d" x="733.6" y="491.3"/><use href="#d" x="737.5" y="494.2"/><use href="#d" x="678.6" y="512.1"/><use href="#d" x="789.6" y="587.9"/><use href="#d" x="769.6" y="608"/><use href="#d" x="784.8" y="614.1"/><use href="#d" x="814.4" y="583.3"/><use href="#d" x="819.8" y="582.3"/><use href="#d" x="839.5" y="588.2"/></g>
<g font-family="Liberation Sans" fill="#000">
<text x="425.2" y="576.8" font-weight="bold" font-size="16" text-anchor="middle">Scab Field Secerity Index</text>
<text x="423.7" y="606" font-size="13" letter-spacing="0.1" text-anchor="middle">Severity = Incidence X Severity / 100</text>
<text x="360" y="637.8" font-size="13">0</text>
<text x="360" y="664.7" font-size="13">0.01-1</text>
<text x="359.2" y="699.9" font-size="13">1.01-5</text>
<text x="478" y="636" font-size="13">5.01-10</text>
<text x="475.5" y="666.3" font-size="13">10.01-25</text>
<text x="479.2" y="702.7" font-size="13">&gt; 25</text>
</g>
<circle cx="337.8" cy="629.4" r="2.6" fill="#000"/>
<rect x="333.5" y="656.5" width="7.5" height="7.8" fill="#9c9c9c" stroke="#000" stroke-width="1"/>
<path d="M337.6 689.5 L344 699.6 L331.2 699.6 Z" fill="#38a800" stroke="#1a1a1a" stroke-width="0.8" stroke-linejoin="miter"/>
<circle cx="454.9" cy="629.4" r="6.6" fill="#005ce6"/>
<rect x="448.5" y="653.5" width="12.6" height="12.8" fill="#e6e600" stroke="#000" stroke-width="1"/>
<path d="M456.9 687.5 L466.9 704.3 L446.7 704.3 Z" fill="#ff0000" stroke="#1a1a1a" stroke-width="0.8"/>
<circle cx="906.7" cy="675.4" r="6.5" fill="#005ce6"/>
<path d="M917.7 670.1 L923.9 679.5 L912.5 679.5 Z" fill="#38a800" stroke="#1a1a1a" stroke-width="0.8"/>
<circle cx="917.8" cy="673" r="2.6" fill="#000"/>

</svg>
</body></html>
